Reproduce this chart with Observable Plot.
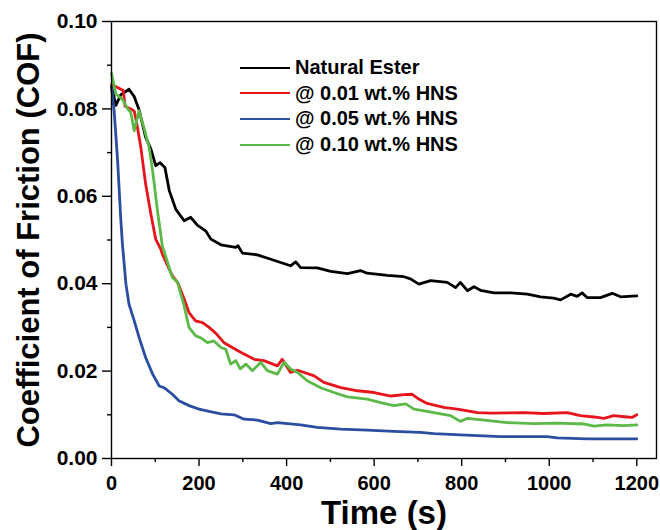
<!DOCTYPE html>
<html>
<head>
<meta charset="utf-8">
<script src="https://cdn.jsdelivr.net/npm/d3@7"></script>
<script src="https://cdn.jsdelivr.net/npm/@observablehq/plot@0.6"></script>
<style>
  body { margin: 0; background: #fff; }
  #wrap { position: relative; width: 660px; height: 530px; font-family: "Liberation Sans", Arial, sans-serif; }
  #legend { position: absolute; left: 240px; top: 55px; }
  .row { display: flex; align-items: center; height: 25.6px; font-size: 20px; font-weight: bold; color: #000; }
  .sw { width: 50px; height: 0; border-top-style: solid; border-top-width: 2.5px; margin-right: 5px; }
</style>
</head>
<body>
<div id="wrap"><div id="legend"></div></div>
<script>
// ---- data ----
const seriesNames = ["Natural Ester", "@ 0.01 wt.% HNS", "@ 0.05 wt.% HNS", "@ 0.10 wt.% HNS"];
const seriesColors = ["#000000", "#e8141c", "#2b4ea2", "#5cb947"];

const esterTime = [0,10,21,40,52,63,78,90,101,111,122,132,147,166,181,196,215,227,250,284,289,299,333,364,409,421,432,470,501,539,569,584,630,668,683,702,729,767,786,797,813,828,843,874,912,950,980,1010,1026,1049,1064,1075,1087,1117,1144,1163,1200];
const esterCOF  = [0.0852,0.0808,0.0832,0.0845,0.0828,0.0798,0.0735,0.0708,0.0670,0.0677,0.0666,0.0613,0.0570,0.0544,0.0552,0.0534,0.0521,0.0502,0.0489,0.0483,0.0487,0.0470,0.0466,0.0456,0.0441,0.0450,0.0437,0.0436,0.0428,0.0423,0.0430,0.0424,0.0419,0.0416,0.0411,0.0399,0.0407,0.0403,0.0391,0.0403,0.0384,0.0393,0.0385,0.0379,0.0379,0.0376,0.0370,0.0367,0.0363,0.0376,0.0371,0.0379,0.0368,0.0368,0.0378,0.0370,0.0372];

const hns01Time = [0,14,27,31,44,52,58,67,78,90,101,113,116,139,151,166,177,192,208,223,238,257,295,326,348,379,390,409,425,463,485,524,562,600,638,668,687,702,721,759,790,836,866,942,988,1041,1071,1102,1125,1147,1178,1189,1200];
const hns01COF  = [0.0855,0.0849,0.0842,0.0806,0.0800,0.0795,0.0765,0.0712,0.0628,0.0559,0.0502,0.0478,0.0468,0.0418,0.0403,0.0365,0.0334,0.0315,0.0311,0.0300,0.0287,0.0265,0.0243,0.0227,0.0224,0.0212,0.0227,0.0197,0.0202,0.0189,0.0174,0.0162,0.0155,0.0151,0.0143,0.0146,0.0147,0.0136,0.0126,0.0117,0.0113,0.0105,0.0104,0.0105,0.0103,0.0105,0.0098,0.0095,0.0092,0.0098,0.0095,0.0094,0.0100];

const hns05Time = [0,6,14,21,25,33,40,52,63,78,94,109,120,139,154,177,200,223,250,280,303,333,364,379,432,470,524,584,645,705,737,797,889,995,1018,1087,1200];
const hns05COF  = [0.0850,0.0796,0.0681,0.0551,0.0490,0.0399,0.0353,0.0315,0.0277,0.0231,0.0193,0.0166,0.0162,0.0147,0.0132,0.0121,0.0113,0.0108,0.0102,0.0100,0.0090,0.0088,0.0080,0.0082,0.0077,0.0071,0.0067,0.0065,0.0062,0.0060,0.0057,0.0054,0.0050,0.0050,0.0047,0.0045,0.0045];

const hns10Time = [0,10,25,37,44,52,63,74,86,94,105,116,139,151,166,177,192,204,219,234,250,261,272,284,294,307,322,341,356,367,379,394,409,425,447,478,508,539,584,615,645,672,691,721,752,775,797,813,851,904,965,1018,1079,1102,1132,1170,1200];
const hns10COF  = [0.0881,0.0834,0.0822,0.0800,0.0792,0.0750,0.0796,0.0757,0.0712,0.0658,0.0567,0.0487,0.0414,0.0403,0.0349,0.0300,0.0281,0.0276,0.0265,0.0269,0.0254,0.0250,0.0216,0.0224,0.0205,0.0216,0.0201,0.0220,0.0201,0.0197,0.0193,0.0220,0.0205,0.0197,0.0178,0.0162,0.0151,0.0141,0.0136,0.0128,0.0121,0.0125,0.0113,0.0108,0.0102,0.0098,0.0085,0.0092,0.0088,0.0082,0.0080,0.0081,0.0079,0.0074,0.0077,0.0075,0.0077];

const xTicks = [0, 200, 400, 600, 800, 1000, 1200];
const xMinorTicks = [100, 300, 500, 700, 900, 1100];
const yTicks = [0, 0.02, 0.04, 0.06, 0.08, 0.10];
const yMinorTicks = [0.01, 0.03, 0.05, 0.07, 0.09];
const xTitle = "Time (s)";
const yTitle = "Coefficient of Friction (COF)";

// ---- build table ----
const seriesTimes = [esterTime, hns01Time, hns05Time, hns10Time];
const seriesValues = [esterCOF, hns01COF, hns05COF, hns10COF];
const rows = [];
seriesNames.forEach((name, i) => {
  seriesTimes[i].forEach((t, j) => rows.push({series: name, time: t, cof: seriesValues[i][j]}));
});

const chart = Plot.plot({
  width: 660,
  height: 530,
  marginLeft: 111,
  marginRight: 4,
  marginTop: 21,
  marginBottom: 72,
  style: {fontFamily: "'Liberation Sans', Arial, sans-serif", fontWeight: "bold", background: "white", color: "black", overflow: "visible"},
  x: {domain: [0, 1245]},
  y: {domain: [0, 0.1]},
  color: {domain: seriesNames, range: seriesColors},
  marks: [
    Plot.line(rows, {x: "time", y: "cof", z: "series", stroke: "series", strokeWidth: 2.8, strokeLinejoin: "round", curve: "linear"}),
    Plot.frame({stroke: "black", strokeWidth: 1.4}),
    Plot.axisX({ticks: xMinorTicks, tickSize: 4, text: null, label: null, strokeWidth: 1.4}),
    Plot.axisX({ticks: xTicks, tickSize: 8, tickPadding: 9, fontSize: 20, fontWeight: "bold", tickFormat: d3.format("d"), label: null, strokeWidth: 1.4}),
    Plot.axisY({ticks: yMinorTicks, tickSize: 4, text: null, label: null, strokeWidth: 1.4}),
    Plot.axisY({ticks: yTicks, tickSize: 9, tickPadding: 5, fontSize: 21, fontWeight: "bold", tickFormat: d3.format(".2f"), label: null, strokeWidth: 1.4}),
    Plot.text([xTitle], {frameAnchor: "bottom", text: d => d, dy: 55, fontSize: 33, fontWeight: "bold", textAnchor: "middle", lineAnchor: "middle", fill: "black"}),
    Plot.text([yTitle], {frameAnchor: "left", text: d => d, dx: -82, rotate: -90, fontSize: 31, fontWeight: "bold", textAnchor: "middle", lineAnchor: "middle", fill: "black"})
  ]
});
document.getElementById("wrap").prepend(chart);

// legend
const legend = document.getElementById("legend");
seriesNames.forEach((name, i) => {
  const row = document.createElement("div");
  row.className = "row";
  const sw = document.createElement("span");
  sw.className = "sw";
  sw.style.borderTopColor = seriesColors[i];
  const label = document.createElement("span");
  label.textContent = name;
  row.append(sw, label);
  legend.append(row);
});
</script>
</body>
</html>
